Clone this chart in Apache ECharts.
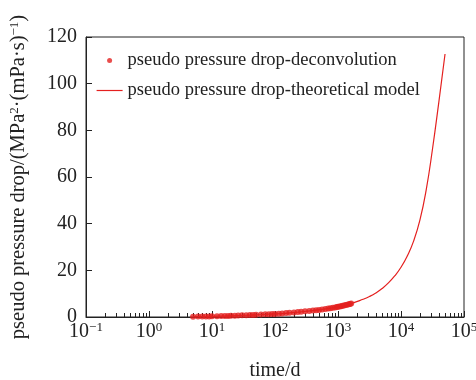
<!DOCTYPE html>
<html>
<head>
<meta charset="utf-8">
<script src="https://cdn.jsdelivr.net/npm/echarts@6/dist/echarts.min.js"></script>
<style>
  html, body { margin: 0; padding: 0; background: #fff; }
  #main { width: 476px; height: 380px; }
</style>
</head>
<body>
<div id="main"></div>
<script>
// deconvolution points (time in d, pseudo pressure drop)
var deconvTime = [5, 6, 7, 8, 9, 10, 12, 14, 16, 18, 20, 23, 26, 30, 35, 40, 45, 50, 60, 70, 80, 90,
    100, 115, 130, 150, 170, 200, 230, 260, 300, 350, 400, 450, 500, 560, 630, 700, 760, 830, 900, 960,
    1000, 1060, 1120, 1180, 1250, 1320, 1400, 1480, 1550, 1620];
var deconvDrop = [0.15, 0.17, 0.2, 0.22, 0.26, 0.3, 0.34, 0.38, 0.42, 0.46, 0.5, 0.56, 0.62, 0.7, 0.78, 0.85, 0.9, 0.95, 1.05, 1.15, 1.2, 1.25,
    1.3, 1.42, 1.55, 1.68, 1.8, 1.95, 2.1, 2.25, 2.45, 2.6, 2.75, 2.9, 3.05, 3.2, 3.4, 3.6, 3.75, 3.95, 4.1, 4.25,
    4.35, 4.5, 4.65, 4.8, 4.95, 5.1, 5.3, 5.45, 5.6, 5.8];

// theoretical model curve
var modelTime = [5, 10, 20, 50, 100, 200, 500, 1000, 1585, 2500, 3160, 3980, 5010, 6310, 7940, 10000,
    12600, 15850, 19950, 25120, 31620, 39810, 50000];
var modelDrop = [0.15, 0.3, 0.5, 0.95, 1.3, 1.95, 3.05, 4.35, 5.7, 7.6, 8.8, 10.3, 12.2, 14.6, 17.6, 21.3,
    26.2, 32.5, 41.5, 54.5, 72, 92, 112.7];

var majorTicks = [0.1, 1, 10, 100, 1000, 10000, 100000];
var minorTicks = [];
majorTicks.slice(0, -1).forEach(function (d) {
    for (var k = 2; k <= 9; k++) minorTicks.push(+(d * k).toPrecision(3));
});

var legendNames = ['pseudo pressure drop-deconvolution', 'pseudo pressure drop-theoretical model'];
var red = '#e4201f';
var font = 'Liberation Serif';

function zip(a, b) {
    return a.map(function (v, i) { return [v, b[i]]; });
}

var chart = echarts.init(document.getElementById('main'));

var option = {
    animation: false,
    textStyle: { fontFamily: font, color: '#222' },
    grid: {
        left: 86, right: 12, top: 37, bottom: 63, outerBoundsMode: 'none',
        show: true, borderColor: '#222', borderWidth: 1
    },
    legend: {
        left: 91, top: 46, orient: 'vertical',
        itemWidth: 26, itemHeight: 5, itemGap: 11,
        textStyle: { fontFamily: font, fontSize: 18.5, color: '#222' },
        data: [
            { name: legendNames[0], icon: 'circle' },
            { name: legendNames[1], itemStyle: { opacity: 0 }, lineStyle: { color: red, width: 1.2, opacity: 1 } }
        ]
    },
    xAxis: [{
        type: 'log', logBase: 10, min: 0.1, max: 100000,
        name: 'time/d', nameLocation: 'middle', nameGap: 44,
        nameTextStyle: { fontFamily: font, fontSize: 20, color: '#222' },
        axisLine: { lineStyle: { color: '#222' } },
        axisTick: { inside: true, length: 6, lineStyle: { color: '#222' }, customValues: majorTicks },
        splitLine: { show: false },
        axisLabel: {
            customValues: majorTicks,
            margin: 4,
            fontFamily: font, fontSize: 20, color: '#222',
            formatter: function (v) {
                var e = Math.round(Math.log10(v));
                return '10{sup|' + String(e).replace('-', '\u2212') + '}';
            },
            rich: { sup: { fontFamily: font, fontSize: 13, verticalAlign: 'top', color: '#222', padding: [0, 0, 8, 0] } }
        }
    }, {
        type: 'log', logBase: 10, min: 0.1, max: 100000, position: 'bottom', gridIndex: 0,
        axisLine: { show: false },
        axisTick: { inside: true, length: 4, lineStyle: { color: '#222' }, customValues: minorTicks },
        axisLabel: { show: false },
        splitLine: { show: false }
    }],
    yAxis: {
        type: 'value', min: 0, max: 120, interval: 20,
        name: 'pseudo pressure drop/(MPa{sup|2}\u00b7(mPa\u00b7s){sup|\u22121})',
        nameLocation: 'middle', nameGap: 57,
        nameTextStyle: {
            fontFamily: font, fontSize: 20.5, color: '#222',
            rich: { sup: { fontFamily: font, fontSize: 13, color: '#222', padding: [0, 0, 8, 0] } }
        },
        axisLine: { show: true, lineStyle: { color: '#222' } },
        axisTick: { inside: true, length: 6, lineStyle: { color: '#222' } },
        splitLine: { show: false },
        axisLabel: { margin: 9, fontFamily: font, fontSize: 20, color: '#222' }
    },
    series: [{
        name: legendNames[0], type: 'scatter',
        symbolSize: 6,
        itemStyle: { color: red },
        data: zip(deconvTime, deconvDrop),
        z: 3
    }, {
        name: legendNames[1], type: 'line',
        symbol: 'none', smooth: true,
        lineStyle: { color: red, width: 1.2 },
        itemStyle: { color: red },
        data: zip(modelTime, modelDrop),
        z: 2
    }]
};

chart.setOption(option);
</script>
</body>
</html>
